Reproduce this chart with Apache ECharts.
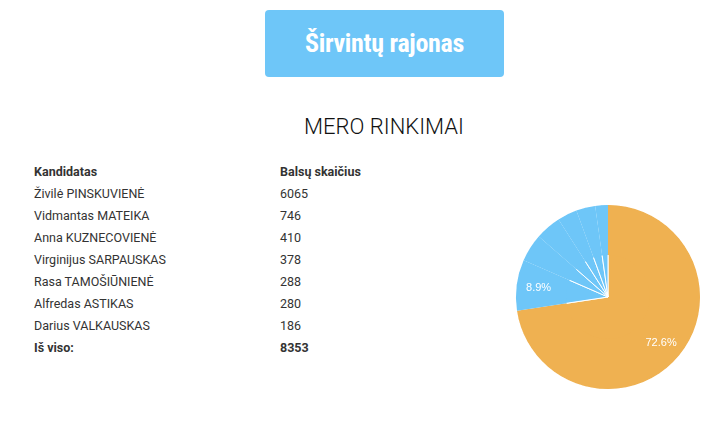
<!DOCTYPE html>
<html>
<head>
<meta charset="utf-8">
<script src="https://cdn.jsdelivr.net/npm/echarts@6/dist/echarts.min.js"></script>
<style>
body{margin:0;width:720px;height:431px;background:#fff;font-family:Roboto,"Noto Sans",sans-serif;position:relative;overflow:hidden}
.btn{position:absolute;left:265px;top:10px;width:239px;height:67px;background:#6ec6f8;border-radius:4px;color:#fff;font-weight:bold;font-size:26px;line-height:67px;text-align:center;font-family:"Roboto Condensed",Roboto,sans-serif;letter-spacing:-0.3px}
.ttl{position:absolute;left:0;width:768px;top:114px;text-align:center;font-size:22px;font-weight:300;color:#111}
.row{position:absolute;left:34px;font-size:12.5px;color:#333;width:400px}
.row span{position:absolute;left:246px}
.b{font-weight:bold}
#pie{position:absolute;left:500px;top:190px;width:220px;height:220px}
</style>
</head>
<body>
<div class="btn">Širvintų rajonas</div>
<div class="ttl">MERO RINKIMAI</div>
<div id="tbl"></div>
<div id="pie"></div>
<script>
var names=["Živilė PINSKUVIENĖ","Vidmantas MATEIKA","Anna KUZNECOVIENĖ","Virginijus SARPAUSKAS","Rasa TAMOŠIŪNIENĖ","Alfredas ASTIKAS","Darius VALKAUSKAS"];
var votes=[6065,746,410,378,288,280,186];
var total=8353;
var colors=["#efb151","#6ec6f8","#6ec6f8","#6ec6f8","#6ec6f8","#6ec6f8","#6ec6f8"];

//表格
var html='<div class="row b" style="top:164px">Kandidatas<span>Balsų skaičius</span></div>';
for(var i=0;i<names.length;i++){
	html+='<div class="row" style="top:'+(186+i*22)+'px">'+names[i]+'<span>'+votes[i]+'</span></div>';
}
html+='<div class="row b" style="top:'+(186+names.length*22)+'px">Iš viso:<span>'+total+'</span></div>';
document.getElementById('tbl').innerHTML=html;

var pieData=[];
for(var i=0;i<names.length;i++){
	pieData.push({name:names[i],value:votes[i],itemStyle:{color:colors[i]}});
}
var chart=echarts.init(document.getElementById('pie'));
chart.setOption({
	animation:false,
	series:[{
		type:'pie',
		center:[108,107],
		radius:[0,92],
		startAngle:90,
		clockwise:true,
		data:pieData,
		itemStyle:{borderColor:'#fff',borderWidth:1},
		label:{show:false},
		labelLine:{show:false}
	},{
		type:'pie',
		center:[108,107],
		radius:[42,92],
		startAngle:90,
		silent:true,
		data:pieData,
		itemStyle:{color:'transparent'},
		label:{
			position:'inside',
			color:'#fff',
			fontSize:11,
			formatter:function(p){return p.percent>5?p.percent.toFixed(1)+'%':'';}
		}
	}]
});
</script>
</body>
</html>
